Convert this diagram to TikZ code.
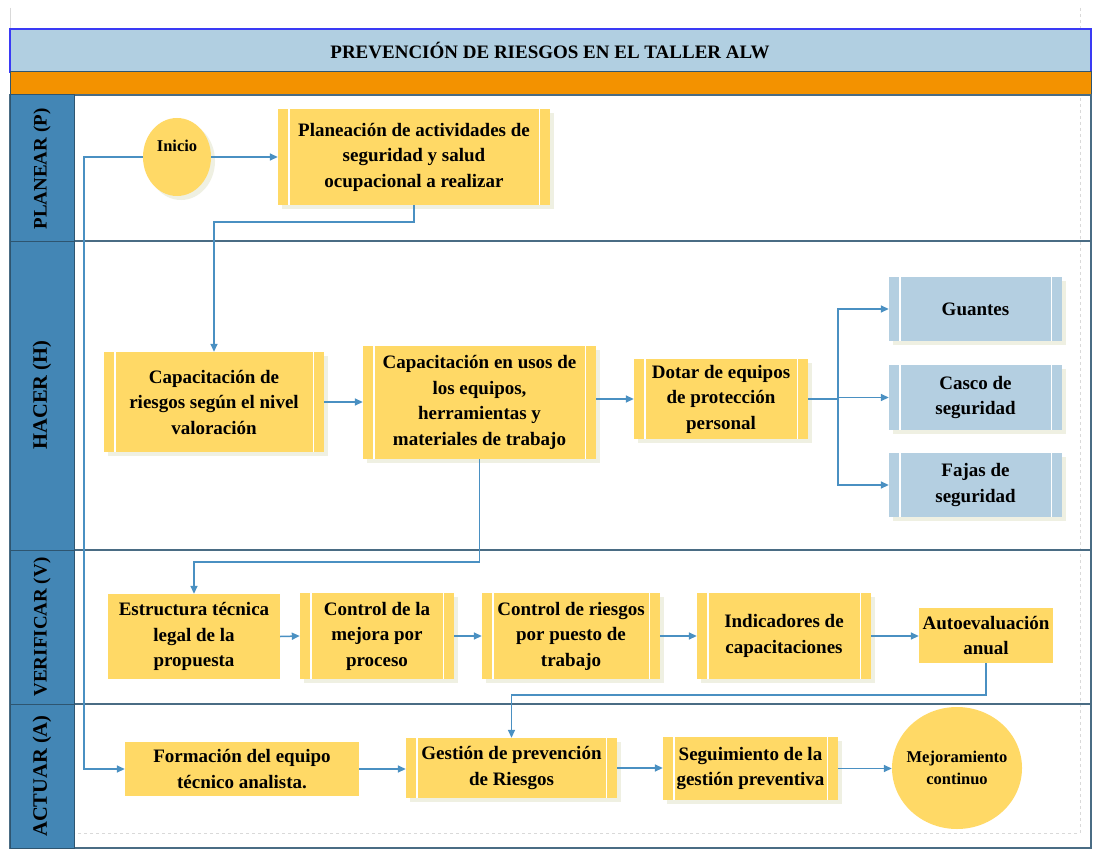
\documentclass[tikz,border=0pt]{standalone}
\usepackage{fontspec}
\setmainfont{Liberation Serif}
\usetikzlibrary{arrows.meta,shapes.geometric,shadows}
\definecolor{ybox}{HTML}{FFD966}
\definecolor{bbox}{HTML}{B4CFE1}
\definecolor{lanefill}{HTML}{4386B5}
\definecolor{laneedge}{HTML}{2E5570}
\definecolor{sepline}{HTML}{4A6C84}
\definecolor{titlefill}{HTML}{B1CFE1}
\definecolor{titleedge}{HTML}{3A3AF5}
\definecolor{orangebar}{HTML}{F39200}
\definecolor{conn}{HTML}{4A90C2}
\definecolor{shade}{HTML}{EFF0E2}
\definecolor{dashgray}{HTML}{D9D9D9}
\tikzset{
 boxbase/.style={rectangle, inner sep=0pt, align=center, font=\fontsize{19}{25.5}\selectfont\bfseries, text=black},
 ybx/.style={boxbase, fill=ybox},
 sbx/.style={drop shadow={shadow xshift=4pt, shadow yshift=-4pt, fill=shade, opacity=1}},
 bbx/.style={boxbase, fill=bbox, sbx},
 arr/.style={draw=conn, line width=1.5pt, -{Triangle[length=8pt,width=7pt]}},
 ln/.style={draw=conn, line width=1.5pt},
 lanelabel/.style={rotate=90, font=\fontsize{19}{22}\selectfont\bfseries, text=black},
 lanebox/.style={fill=lanefill, draw=laneedge, line width=1pt},
 circ/.style={ellipse, fill=ybox, inner sep=0pt},
 circtext/.style={align=center, font=\fontsize{16.5}{22}\selectfont\bfseries, text=black},
}
\newcommand\innerbars[1]{\draw[white, line width=1.4pt] ([xshift=11pt]#1.north west) -- ([xshift=11pt]#1.south west) ([xshift=-11pt]#1.north east) -- ([xshift=-11pt]#1.south east);}
\begin{document}
\begin{tikzpicture}[x=1pt,y=-1pt]
\useasboundingbox (0,0) rectangle (1110,861);
\fill[white] (0,0) rectangle (1110,861);
% guides
\draw[dashgray, dashed, line width=0.8pt] (1080,8) -- (1080,833) -- (75,833);
\draw[dashgray, line width=0.8pt] (10,8) -- (10,29);
% title and bars
\draw[fill=titlefill, draw=titleedge, line width=1.2pt] (10,29) rectangle (1091,72);
\node[font=\fontsize{19}{22}\selectfont\bfseries] (title) at (550,50) {PREVENCIÓN DE RIESGOS EN EL TALLER ALW};
\draw[fill=orangebar, draw=laneedge, line width=1pt] (10,72) rectangle (1091,95);
% lanes
\draw[sepline, line width=1.2pt] (10,95) rectangle (1091,848);
\foreach \yy in {241,550,704} \draw[sepline, line width=1.2pt] (10,\yy) -- (1091,\yy);
\draw[lanebox] (10,95) rectangle (74,241);
\draw[lanebox] (10,241) rectangle (74,550);
\draw[lanebox] (10,550) rectangle (74,704);
\draw[lanebox] (10,704) rectangle (74,848);
\node[lanelabel] (lp) at (42,169) {PLANEAR (P)};
\node[lanelabel, font=\fontsize{20.5}{22}\selectfont\bfseries] (lh) at (42,395) {HACER (H)};
\node[lanelabel] (lv) at (42,627) {VERIFICAR (V)};
\node[lanelabel, font=\fontsize{20.5}{22}\selectfont\bfseries] (la) at (42,776) {ACTUAR (A)};
% PLANEAR
\node[circ, sbx, minimum width=68pt, minimum height=78pt, label={[circtext, yshift=11pt]center:Inicio}] (inicio) at (177,157) {};
\node[ybx, sbx, minimum width=272pt, minimum height=96pt] (plan) at (414,157) {Planeación de actividades de\\seguridad y salud\\ocupacional a realizar};
\innerbars{plan}
% HACER
\node[ybx, sbx, minimum width=220pt, minimum height=100pt] (caprie) at (214,402) {Capacitación de\\riesgos según el nivel\\valoración};
\innerbars{caprie}
\node[ybx, sbx, minimum width=233pt, minimum height=113pt] (capusos) at (479.5,402.5) {Capacitación en usos de\\los equipos,\\herramientas y\\materiales de trabajo};
\innerbars{capusos}
\node[ybx, sbx, minimum width=174pt, minimum height=80pt] (dotar) at (721,399) {Dotar de equipos\\de protección\\personal};
\innerbars{dotar}
\node[bbx, minimum width=173pt, minimum height=64pt] (guantes) at (975.5,309) {Guantes};
\innerbars{guantes}
\node[bbx, minimum width=173pt, minimum height=65pt] (casco) at (975.5,397.5) {Casco de\\seguridad};
\innerbars{casco}
\node[bbx, minimum width=173pt, minimum height=64pt] (fajas) at (975.5,485) {Fajas de\\seguridad};
\innerbars{fajas}
% VERIFICAR
\node[ybx, minimum width=172pt, minimum height=85pt] (estr) at (194,636.5) {Estructura técnica\\legal de la\\propuesta};
\node[ybx, sbx, minimum width=154pt, minimum height=86pt] (mejora) at (377,636) {Control de la\\mejora por\\proceso};
\innerbars{mejora}
\node[ybx, sbx, minimum width=178pt, minimum height=86pt] (riesgos) at (571,636) {Control de riesgos\\por puesto de\\trabajo};
\innerbars{riesgos}
\node[ybx, sbx, minimum width=174pt, minimum height=86pt] (indic) at (784,636) {Indicadores de\\capacitaciones};
\innerbars{indic}
\node[ybx, minimum width=134pt, minimum height=55pt] (auto) at (986,635.5) {Autoevaluación\\anual};
% ACTUAR
\node[ybx, minimum width=234pt, minimum height=54pt] (form) at (242,769) {Formación del equipo\\técnico analista.};
\node[ybx, sbx, minimum width=211pt, minimum height=60pt] (gest) at (511.5,768) {Gestión de prevención\\de Riesgos};
\innerbars{gest}
\node[ybx, sbx, minimum width=175pt, minimum height=63pt] (segui) at (750.5,768.5) {Seguimiento de la\\gestión preventiva};
\innerbars{segui}
\node[circ, minimum width=130pt, minimum height=122pt, label={[circtext]center:Mejoramiento\\continuo}] (mejc) at (957,768) {};
% connectors
\coordinate (c1) at (84,157);
\coordinate (br) at (838,399);
\draw[arr] (inicio.east) -- (plan.west);
\draw[arr] (inicio.west) -- (c1) |- (form.west);
\draw[arr] (plan.south) -- ++(0,17) -| (caprie.north);
\draw[arr] (caprie.east) -- (caprie.east -| capusos.west);
\draw[arr] (capusos.east |- dotar.west) -- (dotar.west);
\draw[ln] (dotar.east) -- (br);
\draw[arr] (br) |- (guantes.west);
\draw[arr] (br) -- (casco.west -| br) -- (casco.west);
\draw[arr] (br) |- (fajas.west);
\draw[arr] (capusos.south) -- ++(0,103) -| (estr.north);
\draw[arr] (estr.east) -- (mejora.west);
\draw[arr] (mejora.east) -- (riesgos.west);
\draw[arr] (riesgos.east) -- (indic.west);
\draw[arr] (indic.east) -- (indic.east -| auto.west);
\draw[arr] (auto.south) -- ++(0,32) -| (gest.north);
\draw[arr] (form.east) -- (form.east -| gest.west);
\draw[arr] (gest.east) -- (gest.east -| segui.west);
\draw[arr] (segui.east) -- (segui.east -| mejc.west);
\end{tikzpicture}
\end{document}
